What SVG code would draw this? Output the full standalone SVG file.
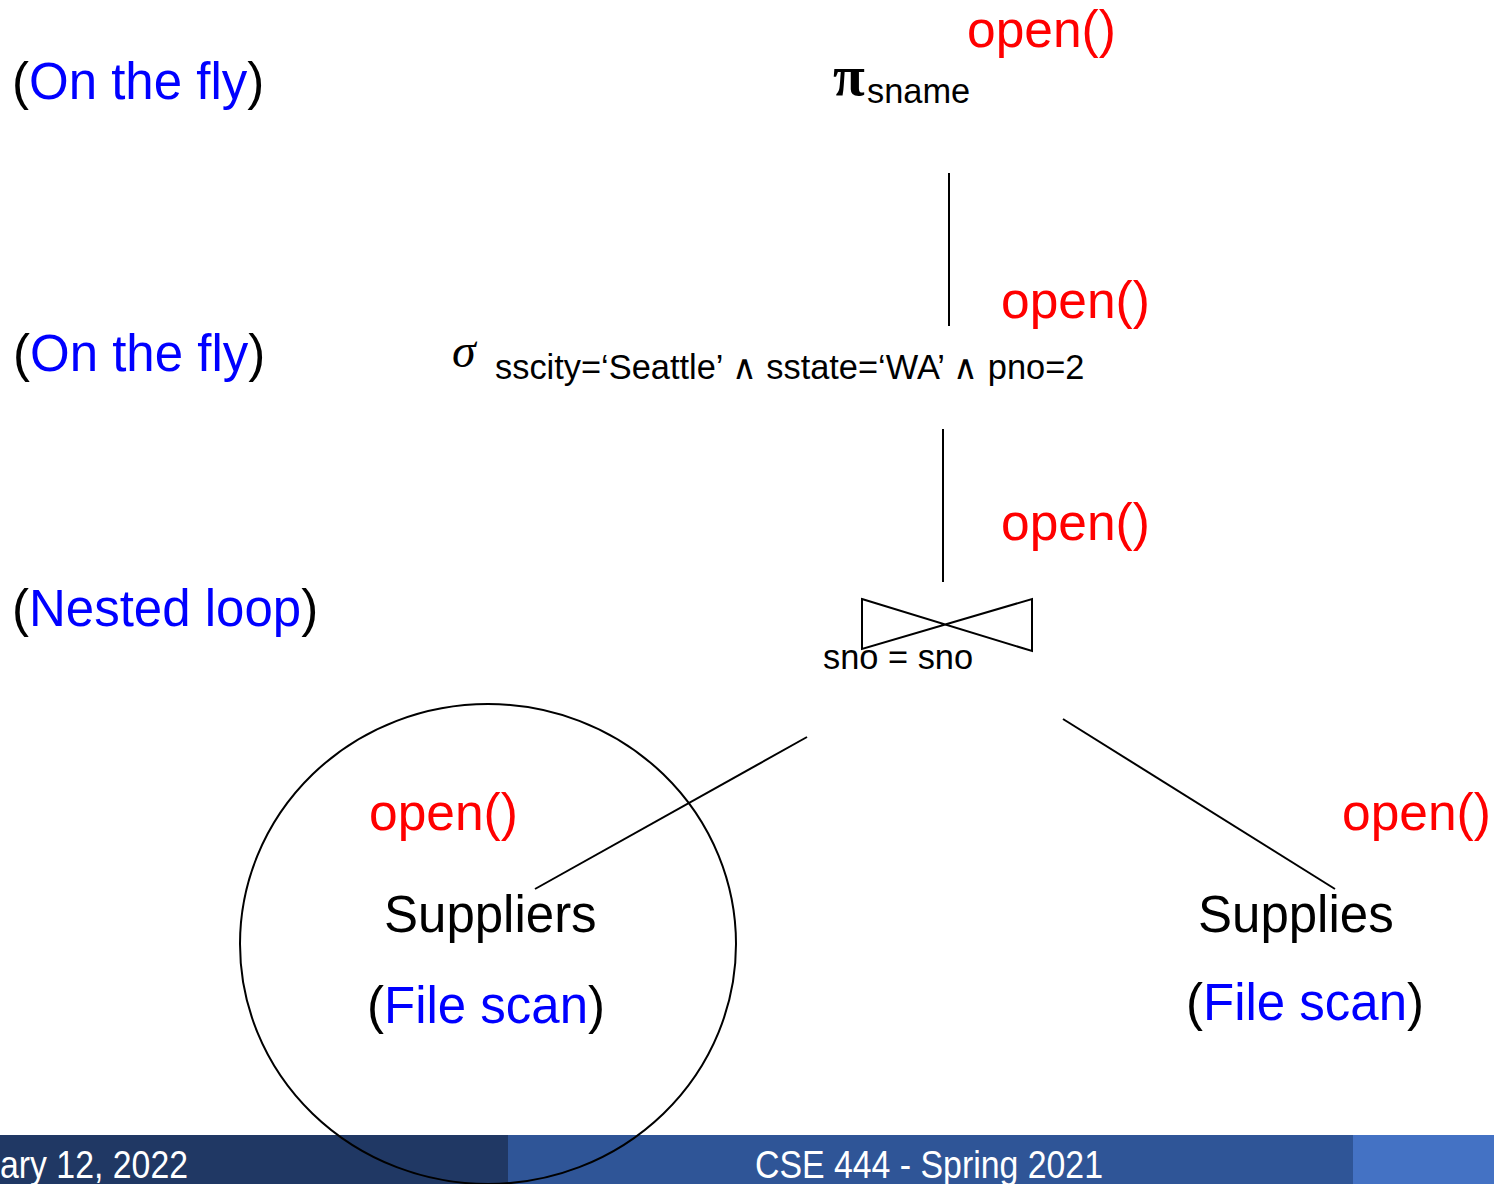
<svg xmlns="http://www.w3.org/2000/svg" width="1494" height="1184" viewBox="0 0 1494 1184">
  <style>
    text { font-family: "Liberation Sans", Arial, sans-serif; }
    .big { font-size: 51px; fill: #000; }
    .blue { fill: #0000FF; }
    .red { font-size: 51.5px; fill: #FF0000; }
    .sub { font-size: 34.4px; fill: #000; }
    .foot { font-size: 38px; fill: #FFFFFF; }
    .edge { stroke: #000; stroke-width: 2; fill: none; }
  </style>
  <rect width="1494" height="1184" fill="#FFFFFF"/>

  <!-- footer bar -->
  <g id="footer">
    <rect x="0" y="1135" width="508" height="49" fill="#203864"/>
    <rect x="508" y="1135" width="845" height="49" fill="#2F5597"/>
    <rect x="1353" y="1135" width="141" height="49" fill="#4472C4"/>
    <text class="foot" x="0" y="1178" textLength="188" lengthAdjust="spacingAndGlyphs">ary 12, 2022</text>
    <text class="foot" x="755" y="1178" textLength="348" lengthAdjust="spacingAndGlyphs">CSE 444 - Spring 2021</text>
  </g>

  <!-- operator annotations on the left -->
  <g id="label-project">
    <text class="big" x="12" y="99">(<tspan class="blue">On the fly</tspan>)</text>
  </g>
  <g id="label-select">
    <text class="big" x="13" y="371">(<tspan class="blue">On the fly</tspan>)</text>
  </g>
  <g id="label-join">
    <text class="big" x="12" y="626">(<tspan class="blue">Nested loop</tspan>)</text>
  </g>

  <!-- plan tree edges -->
  <g id="connectors">
    <line class="edge" x1="949" y1="173" x2="949" y2="326"/>
    <line class="edge" x1="943" y1="429" x2="943" y2="582"/>
    <line class="edge" x1="807" y1="737" x2="535" y2="889"/>
    <line class="edge" x1="1063" y1="719" x2="1335" y2="889"/>
  </g>

  <!-- projection -->
  <g id="node-project">
    <text x="833" y="95" style="font-family: 'Liberation Serif', serif; font-size: 58px; font-weight: bold;">π</text>
    <text class="sub" x="867" y="103">sname</text>
    <text class="red" x="967" y="47">open()</text>
  </g>

  <!-- selection -->
  <g id="node-select">
    <text x="452" y="367" style="font-family: 'Liberation Serif', serif; font-size: 48px; font-style: italic;">σ</text>
    <text class="sub" x="495" y="379">sscity=‘Seattle’ ∧ sstate=‘WA’ ∧ pno=2</text>
    <text class="red" x="1001" y="318">open()</text>
  </g>

  <!-- join -->
  <g id="node-join">
    <polygon class="edge" points="862,599 1032,651 1032,599 862,649"/>
    <text class="sub" x="823" y="669">sno = sno</text>
    <text class="red" x="1001" y="540">open()</text>
  </g>

  <!-- left input -->
  <g id="node-suppliers">
    <text class="red" x="369" y="830">open()</text>
    <text class="big" x="384" y="932">Suppliers</text>
    <text class="big" x="367" y="1023">(<tspan class="blue">File scan</tspan>)</text>
  </g>

  <!-- right input -->
  <g id="node-supplies">
    <text class="red" x="1342" y="830">open()</text>
    <text class="big" x="1198" y="932">Supplies</text>
    <text class="big" x="1186" y="1020">(<tspan class="blue">File scan</tspan>)</text>
  </g>

  <!-- highlight around the left input -->
  <g id="highlight">
    <ellipse class="edge" cx="488" cy="944" rx="248" ry="240"/>
  </g>
</svg>
